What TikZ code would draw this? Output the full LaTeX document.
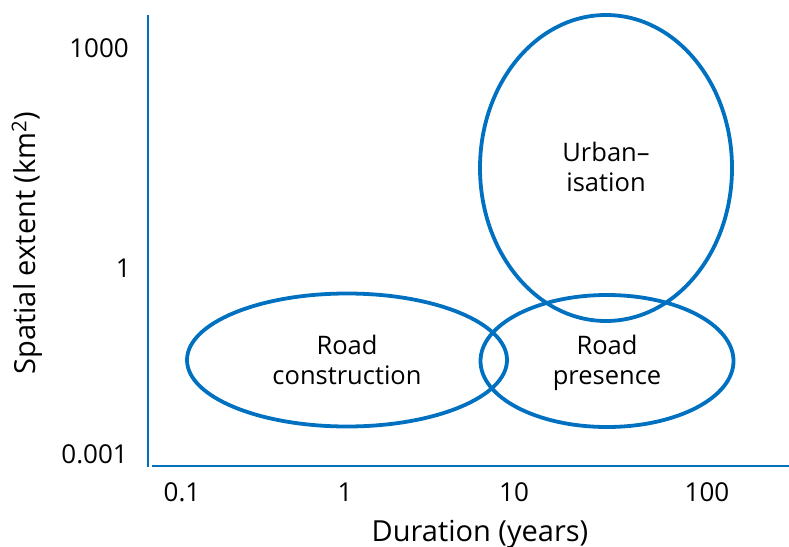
\documentclass[tikz,border=0pt]{standalone}
\usepackage{fontspec}
\setmainfont{Open Sans}
\usetikzlibrary{shapes.geometric}
\definecolor{axisblue}{RGB}{0,112,192}
\begin{document}
\begin{tikzpicture}[x=1pt,y=-1pt,
  axisline/.style={draw=axisblue,line width=1.5pt},
  blob/.style={draw=axisblue,line width=3.8pt,ellipse,inner sep=0pt},
  lbl/.style={font=\fontsize{25.5}{30}\selectfont,text=black,inner sep=0pt,align=center},
  tick/.style={font=\fontsize{26}{30}\selectfont,text=black,inner sep=0pt},
  ttl/.style={font=\fontsize{29}{34}\selectfont,text=black,inner sep=0pt}]
\useasboundingbox (0,0) rectangle (789,546);
% axes
\coordinate (ytop) at (148,15);
\coordinate (ybot) at (148,467);
\coordinate (xl) at (152,466);
\coordinate (xr) at (789,466);
\draw[axisline] (ytop) -- (ybot);
\draw[axisline] (xl) -- (xr);
% ellipses
\node[blob,minimum width=252pt,minimum height=306pt] (urb) at (606,168) {};
\node[blob,minimum width=320pt,minimum height=133pt] (rc) at (347,360) {};
\node[blob,minimum width=253pt,minimum height=132pt] (rp) at (607,361) {};
% labels
\node[lbl] (urbt) at (606,167) {Urban–\\isation};
\node[lbl] (rct) at (347,360) {Road\\construction};
\node[lbl] (rpt) at (607,362.5) {Road\\presence};
% tick labels
\node[tick,anchor=east] (y1000) at (129,48) {1000};
\node[tick,anchor=east] (y1) at (131,268) {1};
\node[tick,anchor=east] (y0001) at (128,454) {0.001};
\node[tick] (x01) at (182,492) {0.1};
\node[tick] (x1) at (345,492) {1};
\node[tick] (x10) at (514,492) {10};
\node[tick] (x100) at (707,492) {100};
% axis titles
\node[ttl] (xt) at (480,534) {Duration (years)};
\node[ttl,rotate=90] (yt) at (27,243) {Spatial extent (km\textsuperscript{2})};
\end{tikzpicture}
\end{document}
